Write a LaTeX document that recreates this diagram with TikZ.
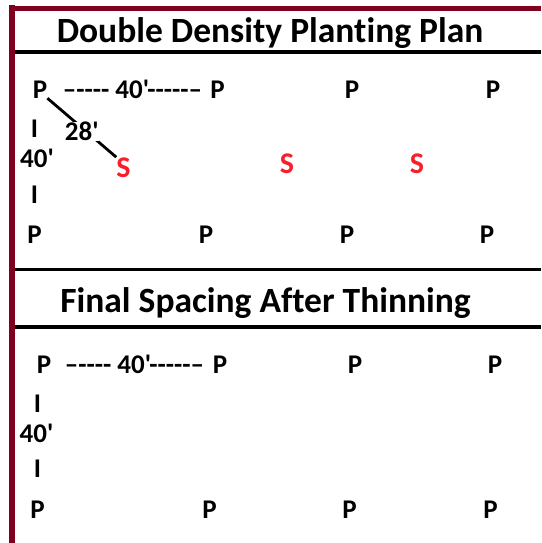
\documentclass[tikz,border=0pt]{standalone}
\usepackage{fontspec}
\newfontfamily\planfont{Carlito}[Ligatures=NoCommon]
\usepackage{xcolor}
\usepackage{tikz}

\definecolor{frameRed}{RGB}{128,0,32}
\definecolor{seedRed}{RGB}{250,30,45}

\tikzset{
	tree/.style={inner sep=0pt, anchor=base, font=\planfont\bfseries\fontsize{27}{31}\selectfont},
	seedling/.style={tree, text=seedRed, font=\planfont\bfseries\fontsize{30}{34}\selectfont},
	heading/.style={inner sep=0pt, anchor=base, font=\planfont\bfseries\fontsize{35.5}{40}\selectfont},
	rule/.style={line width=3.5pt, black},
}

\begin{document}
\begin{tikzpicture}[x=1pt, y=-1pt]
					\def\xMAX{541};
					\def\yMAX{543};
					
					\useasboundingbox (0,0) rectangle (\xMAX,\yMAX);
					
					% frame
					\begin{scope}
						\draw[line width=5pt, frameRed] (9,8.5) -- (\xMAX,8.5);
						\draw[line width=6pt, frameRed] (12,5.5) -- (12,\yMAX);
						\draw[rule] (15,52) -- (\xMAX,52);
						\draw[rule] (15,269.5) -- (\xMAX,269.5);
						\draw[rule] (15,327) -- (\xMAX,327);
					\end{scope}
					
					% double density
					\begin{scope}
						\node[heading] (titleA) at (270,43) {Double Density Planting Plan};
						
						\node[tree] (pA11) at (40,98) {P};
						\node[tree] (gapA) at (132.5,98) {–---- 40'-----–};
						\node[tree] (pA12) at (217.5,98) {P};
						\node[tree] (pA13) at (352,98) {P};
						\node[tree] (pA14) at (493,98) {P};
						
						\node[tree] (barA1) at (34.5,137) {I};
						\node[tree] (sideA) at (37,167) {40'};
						\node[tree] (barA2) at (34.5,203) {I};
						
						\node[seedling] (sA1) at (123.5,177) {S};
						\node[seedling] (sA2) at (287,173) {S};
						\node[seedling] (sA3) at (417,173) {S};
						
						\node[tree] (pA21) at (34.5,243) {P};
						\node[tree] (pA22) at (206,243) {P};
						\node[tree] (pA23) at (347,243) {P};
						\node[tree] (pA24) at (487,243) {P};
						
						\draw[line width=2.8pt] (pA11.south east) -- node[tree, anchor=center, fill=white, yshift=-4pt] (diagA) {28'} (sA1.north west);
					\end{scope}
					
					% after thinning
					\begin{scope}
						\node[heading] (titleB) at (265.5,312) {Final Spacing After Thinning};
						
						\node[tree] (pB11) at (44,373) {P};
						\node[tree] (gapB) at (134.5,373) {–---- 40'-----–};
						\node[tree] (pB12) at (220,373) {P};
						\node[tree] (pB13) at (355,373) {P};
						\node[tree] (pB14) at (495,373) {P};
						
						\node[tree] (barB1) at (37.5,412) {I};
						\node[tree] (sideB) at (36.5,442) {40'};
						\node[tree] (barB2) at (37.5,477) {I};
						
						\node[tree] (pB21) at (37.5,518) {P};
						\node[tree] (pB22) at (209.5,518) {P};
						\node[tree] (pB23) at (349.5,518) {P};
						\node[tree] (pB24) at (490.5,518) {P};
					\end{scope}
				\end{tikzpicture}
\end{document}
